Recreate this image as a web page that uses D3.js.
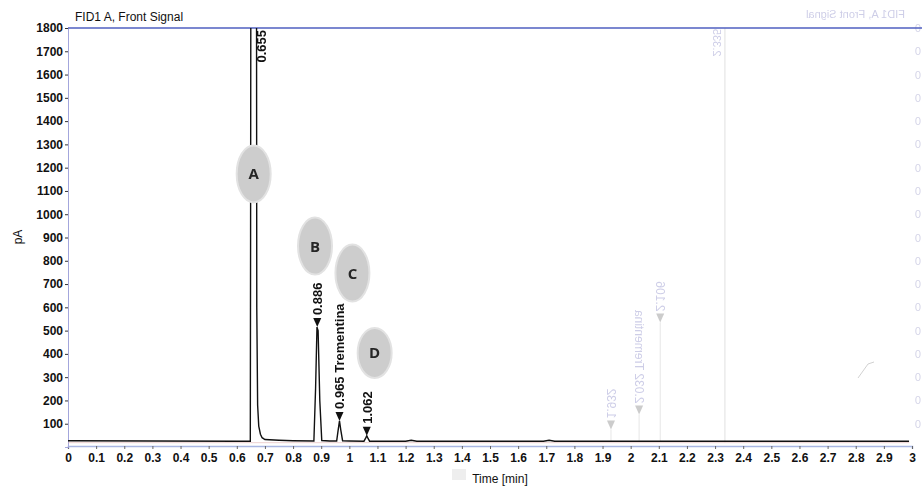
<!DOCTYPE html>
<html>
<head>
<meta charset="utf-8">
<script src="https://cdn.jsdelivr.net/npm/d3@7"></script>
<style>
  body { margin: 0; background: #fff; }
  svg { font-family: "Liberation Sans", Arial, sans-serif; }
</style>
</head>
<body>
<svg id="chart"></svg>
<script>
// signal trace (time in min, signal in pA)
let times = [0, 0.3, 0.6, 0.648, 0.649, 0.650, 0.670, 0.671, 0.674, 0.678, 0.684, 0.69, 0.70, 0.75, 0.8, 0.874, 0.880, 0.885, 0.889, 0.895, 0.902, 0.93, 0.955, 0.960, 0.965, 0.970, 0.976, 1.0, 1.052, 1.058, 1.062, 1.066, 1.072, 1.2, 1.22, 1.24, 1.5, 1.69, 1.71, 1.73, 2.0, 2.5, 2.99]
let signal = [27, 26, 25, 25, 900, 2100, 2100, 600, 180, 90, 55, 40, 32, 29, 27, 26, 250, 515, 500, 200, 28, 26, 26, 70, 112, 70, 27, 26, 25, 38, 48, 38, 25, 25, 29, 25, 25, 25, 29, 25, 25, 25, 25]

let yTicks = [100, 200, 300, 400, 500, 600, 700, 800, 900, 1000, 1100, 1200, 1300, 1400, 1500, 1600, 1700, 1800]
let xTicks = d3.range(0, 31).map(d => d / 10)

// labelled peaks
let peakTimes = [0.886, 0.965, 1.062]
let peakTops = [515, 112, 48]
let peakLabels = ['0.886', '0.965 Trementina', '1.062']

// letter bubbles
let bubbleLetters = ['A', 'B', 'C', 'D']
let bubbleTimes = [0.660, 0.878, 1.011, 1.090]
let bubbleValues = [1173, 863, 747, 404]

// faint show-through from the other side of the page
let ghostTimes = [1.93, 2.03, 2.105]
let ghostTops = [75, 140, 535]
let ghostLabels = ['1.932', '2.032 Trementina', '2.106']

let width = 922
let height = 487

let svg = d3.select('#chart')
    .attr('width', width)
    .attr('height', height)

let xScale = d3.scaleLinear().domain([0, 3]).range([68, 912])
let yScale = d3.scaleLinear().domain([0, 1800]).range([447, 28])

let triangle = (x, y) => 'M' + (x - 4) + ',' + (y - 9) + 'L' + (x + 4) + ',' + (y - 9) + 'L' + x + ',' + y + 'Z'

// ghost layer first so it sits underneath
let ghost = svg.append('g').attr('opacity', 0.3)

ghost.append('line')
    .attr('x1', xScale(2.335)).attr('x2', xScale(2.335))
    .attr('y1', yScale(1800)).attr('y2', yScale(20))
    .attr('stroke', '#999').attr('stroke-width', 1)

ghost.selectAll('line.gpk')
    .data(ghostTimes)
    .enter()
    .append('line')
    .attr('class', 'gpk')
    .attr('x1', d => xScale(d)).attr('x2', d => xScale(d))
    .attr('y1', (d, i) => yScale(ghostTops[i])).attr('y2', yScale(25))
    .attr('stroke', '#aaa')

ghost.selectAll('path.gtri')
    .data(ghostTimes)
    .enter()
    .append('path')
    .attr('class', 'gtri')
    .attr('d', (d, i) => triangle(xScale(d), yScale(ghostTops[i])))
    .attr('fill', '#555')

ghost.selectAll('text.glab')
    .data(ghostLabels)
    .enter()
    .append('text')
    .attr('class', 'glab')
    .attr('transform', (d, i) => 'translate(' + (xScale(ghostTimes[i]) - 4) + ',' + (yScale(ghostTops[i]) - 11) + ') rotate(90) scale(-1,1)')
    .attr('font-size', 12)
    .attr('fill', '#5a5ab0')
    .text(d => d)

ghost.append('text')
    .attr('transform', 'translate(905,18) scale(-1,1)')
    .attr('font-size', 11)
    .attr('fill', '#5a5ab0')
    .text('FID1 A, Front Signal')

ghost.append('text')
    .attr('transform', 'translate(' + (xScale(2.335) - 12) + ',' + (yScale(1800) + 1) + ') rotate(90) scale(-1,1)')
    .attr('text-anchor', 'end')
    .attr('font-size', 11)
    .attr('fill', '#5a5ab0')
    .text('2.335')

ghost.selectAll('text.gy')
    .data(yTicks)
    .enter()
    .append('text')
    .attr('class', 'gy')
    .attr('transform', d => 'translate(921,' + (yScale(d) + 4) + ') scale(-1,1)')
    .attr('font-size', 11)
    .attr('fill', '#7070b0')
    .text(d => String(d).slice(-1))

ghost.append('path')
    .attr('d', 'M858,378 L868,364 L874,362')
    .attr('fill', 'none')
    .attr('stroke', '#666')

// axes
let xAxis = d3.axisBottom(xScale)
    .tickValues(xTicks)
    .tickFormat(d3.format('~g'))
    .tickSize(3)
    .tickPadding(4)

let xg = svg.append('g')
    .attr('transform', 'translate(0,446)')
    .call(xAxis)
xg.select('.domain').attr('stroke', '#a9b6e2').attr('stroke-width', 1.5)
xg.selectAll('.tick line').attr('stroke', '#666')
xg.selectAll('.tick text')
    .attr('font-size', 12)
    .attr('font-weight', 'bold')
    .attr('fill', '#111')
    .attr('font-family', '"Liberation Sans", Arial, sans-serif')

let yAxis = d3.axisLeft(yScale)
    .tickValues(yTicks)
    .tickFormat(d3.format('d'))
    .tickSize(3)
    .tickPadding(2)

let yg = svg.append('g')
    .attr('transform', 'translate(68,0)')
    .call(yAxis)
yg.select('.domain').attr('stroke', '#a3a6dc').attr('stroke-width', 1)
yg.selectAll('.tick line').attr('stroke', '#333')
yg.selectAll('.tick text')
    .attr('font-size', 12)
    .attr('font-weight', 'bold')
    .attr('fill', '#111')
    .attr('font-family', '"Liberation Sans", Arial, sans-serif')

// top frame line
svg.append('line')
    .attr('x1', 68).attr('x2', width)
    .attr('y1', yScale(1800)).attr('y2', yScale(1800))
    .attr('stroke', '#4f5fc0').attr('stroke-width', 1.3)

// signal trace, clipped at the top of the plot
svg.append('clipPath').attr('id', 'plotclip')
    .append('rect')
    .attr('x', 68).attr('y', yScale(1800))
    .attr('width', xScale(2.99) - 68).attr('height', yScale(0) - yScale(1800))

let line = d3.line()
    .x((d, i) => xScale(times[i]))
    .y(d => yScale(d))

// faint red echo under the baseline
svg.append('line')
    .attr('x1', 68).attr('x2', xScale(2.99))
    .attr('y1', yScale(25) + 1.5).attr('y2', yScale(25) + 1.5)
    .attr('stroke', '#d9a0a0').attr('stroke-width', 0.8).attr('opacity', 0.6)

svg.append('path')
    .datum(signal)
    .attr('clip-path', 'url(#plotclip)')
    .attr('d', line)
    .attr('fill', 'none')
    .attr('stroke', '#111')
    .attr('stroke-width', 1.4)

// peak markers
svg.selectAll('path.tri')
    .data(peakTimes)
    .enter()
    .append('path')
    .attr('class', 'tri')
    .attr('d', (d, i) => triangle(xScale(d), yScale(peakTops[i])))
    .attr('fill', '#111')

svg.selectAll('text.plab')
    .data(peakLabels)
    .enter()
    .append('text')
    .attr('class', 'plab')
    .attr('transform', (d, i) => 'translate(' + (xScale(peakTimes[i]) + 5) + ',' + (yScale(peakTops[i]) - 12) + ') rotate(-90)')
    .attr('font-size', 13)
    .attr('font-weight', 'bold')
    .attr('fill', '#111')
    .text(d => d)

// clipped main peak label
svg.append('text')
    .attr('transform', 'translate(' + (xScale(0.655) + 14) + ',' + (yScale(1800) + 2) + ') rotate(-90)')
    .attr('text-anchor', 'end')
    .attr('font-size', 13)
    .attr('font-weight', 'bold')
    .attr('fill', '#111')
    .text('0.655')

// letter bubbles
let bubbles = svg.selectAll('g.bubble')
    .data(bubbleLetters)
    .enter()
    .append('g')
    .attr('class', 'bubble')
    .attr('transform', (d, i) => 'translate(' + xScale(bubbleTimes[i]) + ',' + yScale(bubbleValues[i]) + ')')

bubbles.append('ellipse')
    .attr('rx', 17)
    .attr('ry', (d, i) => i === 3 ? 25 : 28.5)
    .attr('fill', '#cdcdcd')
    .attr('stroke', '#e2e2e2').attr('stroke-width', 2)

bubbles.append('text')
    .attr('text-anchor', 'middle')
    .attr('dy', '0.36em')
    .attr('font-size', 15)
    .attr('font-weight', 'bold')
    .attr('font-family', '"Open Sans", sans-serif')
    .attr('fill', '#262626')
    .text(d => d)

// titles
svg.append('text')
    .attr('x', 75).attr('y', 21)
    .attr('font-size', 12)
    .attr('fill', '#111')
    .text('FID1 A, Front Signal')

svg.append('text')
    .attr('transform', 'translate(22,' + 237 + ') rotate(-90)')
    .attr('text-anchor', 'middle')
    .attr('font-size', 12)
    .attr('fill', '#111')
    .text('pA')

svg.append('rect')
    .attr('x', 452).attr('y', 469).attr('width', 14).attr('height', 11)
    .attr('fill', '#eee')

svg.append('text')
    .attr('x', 500).attr('y', 483)
    .attr('text-anchor', 'middle')
    .attr('font-size', 12)
    .attr('fill', '#111')
    .text('Time [min]')
</script>
</body>
</html>
